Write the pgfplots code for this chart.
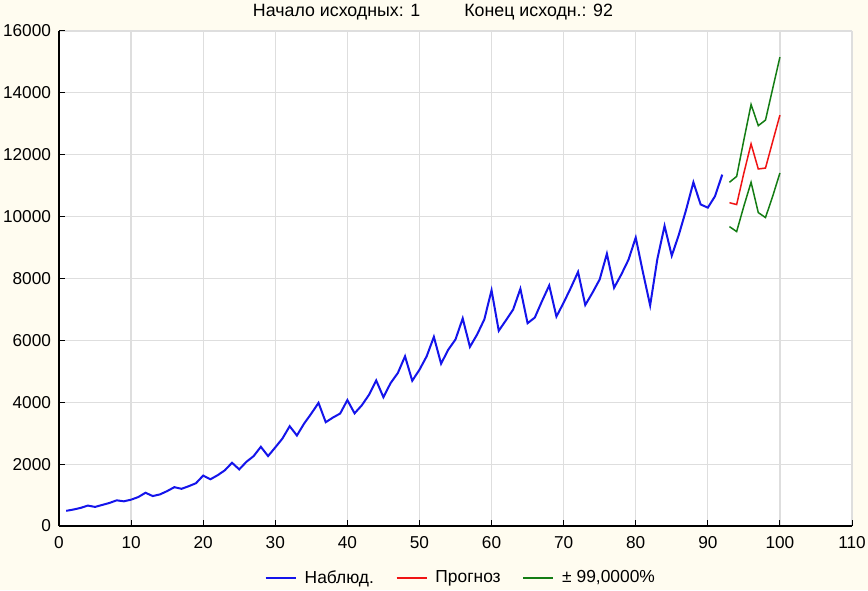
\documentclass[border=0pt]{standalone}
\usepackage{fontspec}
\setmainfont{Liberation Sans}
\usepackage{pgfplots}
\pgfplotsset{compat=1.18}
\definecolor{bgc}{RGB}{255,252,240}
\definecolor{gridc}{RGB}{222,222,222}
\definecolor{obsblue}{RGB}{20,20,235}
\definecolor{fcred}{RGB}{240,20,20}
\definecolor{ciGreen}{RGB}{20,125,20}
\begin{document}
\fontsize{8.5}{10}\selectfont
\begin{tikzpicture}
\fill[bgc] (0,0) rectangle (434pt,295pt);
\useasboundingbox (0,0) rectangle (434pt,295pt);
\node[font=\fontsize{8.9}{10}\selectfont] at (216.5pt,289pt) {Начало исходных: 1\hspace{22pt}Конец исходн.: 92};
\begin{axis}[
  at={(29.5pt,32pt)}, anchor=south west,
  width=396.5pt, height=247.5pt, scale only axis,
  xmin=0, xmax=110, ymin=0, ymax=16000,
  xtick={0,10,...,110}, ytick={0,2000,...,16000},
  axis x line*=bottom, axis y line*=left,
  axis line style={black, line width=0.6pt, -},
  axis background/.style={fill=white},
  grid=major, major grid style={gridc, line width=0.6pt},
  tick align=inside, major tick length=3pt,
  tick style={black, line width=0.5pt},
  /pgf/number format/assume math mode=true,
  /pgf/number format/1000 sep={},
  scaled y ticks=false,
  ticklabel style={font=\fontsize{8.6}{10}\selectfont},
  xticklabel style={yshift=-2pt},
  yticklabel style={xshift=-1pt},
  legend columns=3,
  legend style={at={(0.508,-0.105)}, anchor=center, draw=none, fill=none,
    font=\fontsize{8.7}{10}\selectfont,
    /tikz/every odd column/.append style={column sep=2pt},
    /tikz/every even column/.append style={column sep=9pt}},
  legend image code/.code={\draw[#1] (0pt,0pt) -- (15pt,0pt);},
]
\addplot[obsblue, line width=1pt] coordinates {
(1,490) (2,532) (3,585) (4,660) (5,617) (6,681) (7,745) (8,830) (9,798) (10,851)
(11,936) (12,1075) (13,968) (14,1021) (15,1128) (16,1255) (17,1202) (18,1287) (19,1383) (20,1630)
(21,1510) (22,1640) (23,1800) (24,2044) (25,1830) (26,2075) (27,2260) (28,2560) (29,2260) (30,2540)
(31,2830) (32,3226) (33,2925) (34,3310) (35,3635) (36,3980) (37,3355) (38,3506) (39,3635) (40,4070)
(41,3642) (42,3900) (43,4240) (44,4705) (45,4163) (46,4620) (47,4945) (48,5485) (49,4695) (50,5050)
(51,5485) (52,6114) (53,5247) (54,5700) (55,6030) (56,6710) (57,5790) (58,6190) (59,6680) (60,7620)
(61,6310) (62,6650) (63,7000) (64,7667) (65,6555) (66,6737) (67,7270) (68,7775) (69,6770) (70,7218)
(71,7700) (72,8213) (73,7143) (74,7540) (75,7970) (76,8800) (77,7700) (78,8130) (79,8610) (80,9324)
(81,8200) (82,7130) (83,8630) (84,9700) (85,8736) (86,9430) (87,10230) (88,11110) (89,10394) (90,10290)
(91,10660) (92,11357)
};
\addlegendentry{Наблюд.}
\addplot[fcred, line width=0.75pt] coordinates {
(93,10450) (94,10390) (95,11410) (96,12350) (97,11540) (98,11570) (99,12430) (100,13280)
};
\addlegendentry{Прогноз}
\addplot[ciGreen, line width=0.75pt] coordinates {
(93,11110) (94,11300) (95,12480) (96,13625) (97,12940) (98,13120) (99,14140) (100,15155)
};
\addlegendentry{± 99,0000\%}
\addplot[ciGreen, line width=0.75pt, forget plot] coordinates {
(93,9677) (94,9517) (95,10340) (96,11110) (97,10130) (98,9970) (99,10660) (100,11410)
};
\end{axis}
\end{tikzpicture}
\end{document}
